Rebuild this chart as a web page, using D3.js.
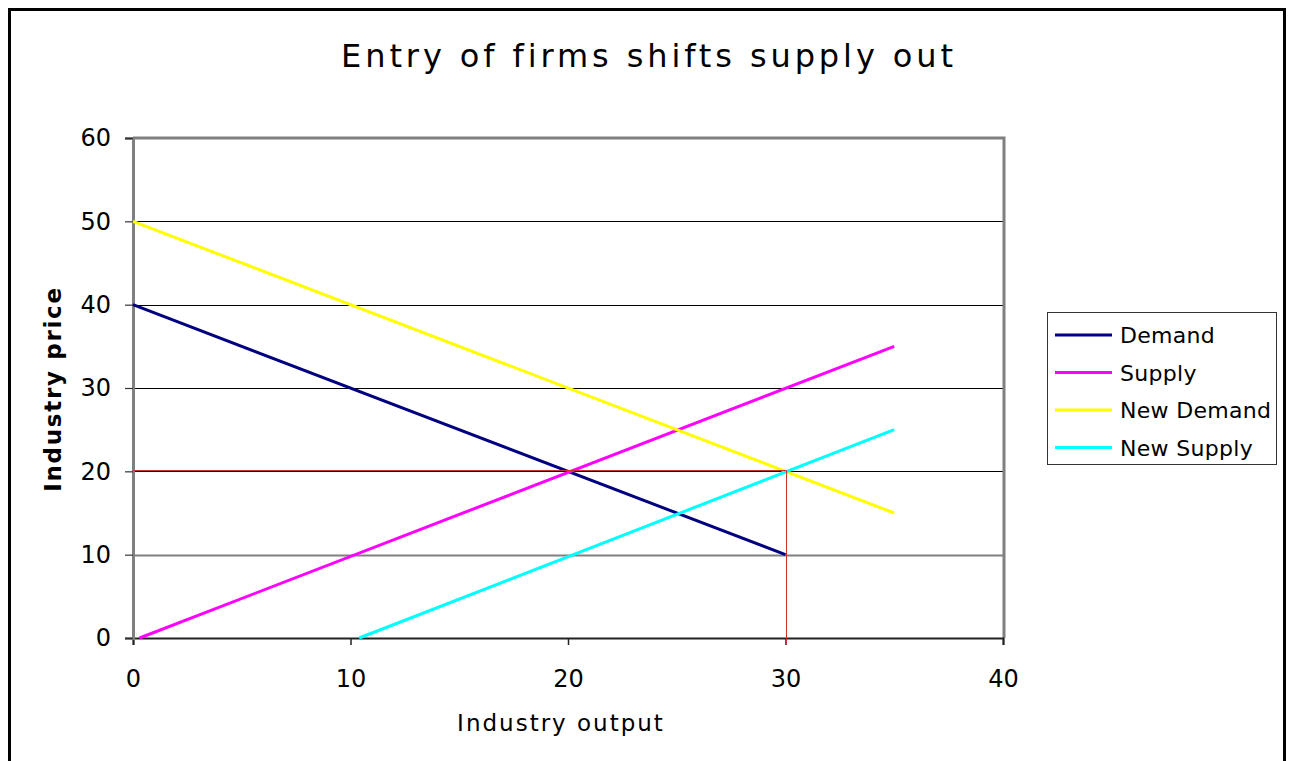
<!DOCTYPE html>
<html>
<head>
<meta charset="utf-8">
<script src="https://cdn.jsdelivr.net/npm/d3@7"></script>
<style>
  html, body { margin: 0; padding: 0; background: #fff; }
  svg { display: block; }
  text { font-family: "DejaVu Sans", Verdana, sans-serif; fill: #000; }
</style>
</head>
<body>
<svg id="chart" width="1293" height="761"></svg>
<script>
// Curves as (output, price) points
const demand     = [[0, 40], [30, 10]];
const supply     = [[0.3, 0], [35, 35]];
const newDemand  = [[0, 50], [35, 15]];
const newSupply  = [[10.4, 0], [35, 25]];

const seriesNames  = ["Demand", "Supply", "New Demand", "New Supply"];
const seriesColors = ["#000080", "#ff00ff", "#ffff00", "#00ffff"];

// Equilibrium marker: price and output of the new equilibrium
const markerPrice  = [20.2];
const markerOutput = [30];

const xTicks = [0, 10, 20, 30, 40];
const yTicks = [0, 10, 20, 30, 40, 50, 60];

const titleText = "Entry of firms shifts supply out";
const xLabel = "Industry output";
const yLabel = "Industry price";

const svg = d3.select("#chart");
const W = 1293, H = 761;

// outer frame (bottom edge runs off the page)
svg.append("path")
  .attr("d", `M9.5,${H + 5} V9.5 H1284.5 V${H + 5}`)
  .attr("fill", "none").attr("stroke", "#000").attr("stroke-width", 3);

const plot = { left: 133, right: 1003, top: 138, bottom: 638 };

const x = d3.scaleLinear().domain([0, 40]).range([plot.left, plot.right]);
const y = d3.scaleLinear().domain([0, 60]).range([plot.bottom, plot.top]);

// gridlines
svg.append("g")
  .selectAll("line")
  .data(yTicks.filter(t => t > 0 && t < 60))
  .join("line")
  .attr("x1", plot.left).attr("x2", plot.right)
  .attr("y1", d => Math.round(y(d)) + 0.5).attr("y2", d => Math.round(y(d)) + 0.5)
  .attr("stroke", d => d === 10 ? "#808080" : "#000")
  .attr("stroke-width", d => d === 10 ? 2 : 1);

// plot border: top and right in grey
svg.append("path")
  .attr("d", `M${plot.left},${plot.top} H${plot.right + 1} V${plot.bottom}`)
  .attr("fill", "none").attr("stroke", "#808080").attr("stroke-width", 3);

// axes
const xAxis = d3.axisBottom(x).tickValues(xTicks).tickSize(7).tickPadding(25).tickFormat(d3.format("d"));
const yAxis = d3.axisLeft(y).tickValues(yTicks).tickSize(8).tickPadding(14).tickFormat(d3.format("d"));

const gx = svg.append("g").attr("transform", `translate(0,${plot.bottom})`).call(xAxis);
gx.select(".domain").attr("stroke", "#222").attr("stroke-width", 2);
gx.selectAll(".tick line").attr("stroke", "#222").attr("stroke-width", 1.5);
gx.selectAll(".tick text").style("font-size", "24px").attr("fill", "#000");

const gy = svg.append("g").attr("transform", `translate(${plot.left},0)`).call(yAxis);
gy.select(".domain").attr("stroke", "#808080").attr("stroke-width", 3);
gy.selectAll(".tick line").attr("stroke", "#333").attr("stroke-width", 1.2);
gy.selectAll(".tick text").style("font-size", "24px").attr("fill", "#000");

// curves
const line = d3.line().x(d => x(d[0])).y(d => y(d[1]));
const allSeries = [demand, supply, newDemand, newSupply];
svg.append("g")
  .selectAll("path")
  .data(allSeries)
  .join("path")
  .attr("d", line)
  .attr("fill", "none")
  .attr("stroke", (d, i) => seriesColors[i])
  .attr("stroke-width", 3)
  .attr("stroke-linecap", "butt");

// equilibrium guide lines
const guide = svg.append("g").attr("stroke", "#c83232").attr("stroke-width", 1).attr("fill", "none");
guide.append("path")
  .attr("d", `M${x(0)},${Math.round(y(markerPrice[0])) + 0.5} H${Math.round(x(markerOutput[0])) + 0.5} V${plot.bottom + 6}`);

// title
svg.append("text")
  .attr("x", 649).attr("y", 67)
  .attr("text-anchor", "middle")
  .style("font-size", "32px")
  .style("letter-spacing", "3.9px")
  .text(titleText);

// axis titles
svg.append("text")
  .attr("x", 561).attr("y", 731)
  .attr("text-anchor", "middle")
  .style("font-size", "23px")
  .style("letter-spacing", "2px")
  .text(xLabel);

svg.append("text")
  .attr("transform", "translate(61,389) rotate(-90)")
  .attr("text-anchor", "middle")
  .style("font-size", "23px")
  .style("font-weight", "bold")
  .style("letter-spacing", "1.7px")
  .text(yLabel);

// legend
const lg = svg.append("g");
lg.append("rect")
  .attr("x", 1047.5).attr("y", 312.5).attr("width", 229).attr("height", 152)
  .attr("fill", "#fff").attr("stroke", "#333").attr("stroke-width", 1);

const items = lg.selectAll("g.item")
  .data(seriesNames)
  .join("g").attr("class", "item")
  .attr("transform", (d, i) => `translate(1055,${335 + i * 37.5})`);
items.append("line")
  .attr("x1", 0).attr("x2", 57).attr("y1", 0).attr("y2", 0)
  .attr("stroke", (d, i) => seriesColors[i]).attr("stroke-width", 3);
items.append("text")
  .attr("x", 65).attr("y", 8)
  .style("font-size", "22px")
  .style("letter-spacing", "0.3px")
  .text(d => d);
</script>
</body>
</html>
